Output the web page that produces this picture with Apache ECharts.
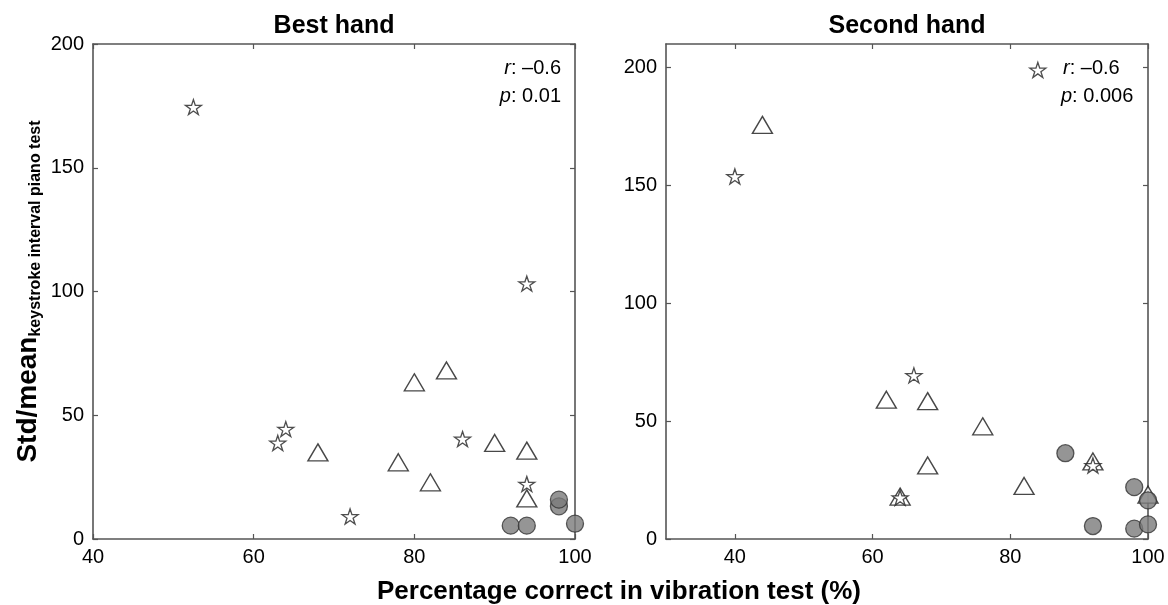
<!DOCTYPE html>
<html><head><meta charset="utf-8">
<script src="https://cdn.jsdelivr.net/npm/echarts@6/dist/echarts.min.js"></script>
<style>html,body{margin:0;padding:0;background:#fff}#c{width:1168px;height:605px}</style>
</head><body><div id="c"></div>
<script>
// ---- data ----
const panelTitles = ['Best hand', 'Second hand'];
const xAxisTitle = 'Percentage correct in vibration test (%)';
const yAxisMain = 'Std/mean';
const yAxisSub = 'keystroke interval piano test';
const statR = ['–0.6', '–0.6'];
const statP = ['0.01', '0.006'];

const leftXTicks = [40, 60, 80, 100];
const leftYTicks = [0, 50, 100, 150, 200];
const rightXTicks = [40, 60, 80, 100];
const rightYTicks = [0, 50, 100, 150, 200];

const bestStarX = [52.5, 94, 63, 64, 72, 86, 94];
const bestStarY = [174.5, 103.2, 38.8, 44.4, 9.1, 40.4, 22.2];
const bestTriX = [68, 80, 84, 78, 82, 90, 94, 94];
const bestTriY = [35.0, 63.3, 68.1, 31.0, 22.9, 38.8, 35.7, 16.4];
const bestCircX = [92, 94, 98, 98, 100];
const bestCircY = [5.4, 5.4, 13.2, 15.9, 6.2];

const secStarX = [84, 40, 66, 64, 92];
const secStarY = [199, 153.8, 69.4, 17.5, 31.2];
const secTriX = [44, 62, 68, 76, 68, 82, 64, 92, 100];
const secTriY = [175.7, 59.1, 58.5, 47.8, 31.2, 22.5, 18.0, 32.9, 18.8];
const secCircX = [88, 98, 92, 98, 100, 100];
const secCircY = [36.4, 22.0, 5.5, 4.4, 6.2, 16.4];

// ---- chart ----
const FONT = 'Liberation Sans, Arial, sans-serif';
const zip = (xs, ys) => xs.map((x, i) => [x, ys[i]]);
const STAR = 'path://M50,0 L61.2,34.5 L97.6,34.5 L68.2,55.9 L79.4,90.5 L50,69.1 L20.6,90.5 L31.8,55.9 L2.4,34.5 L38.8,34.5 Z';
const AX = '#555555';

function axisBase(extra) {
  return Object.assign({
    type: 'value',
    axisLine: { show: true, onZero: false, lineStyle: { color: AX, width: 1.6 } },
    splitLine: { show: false }
  }, extra);
}
function xAx(grid, min, max, ticks, pos, labels) {
  return axisBase({
    gridIndex: grid, min: min, max: max, position: pos,
    axisTick: { show: true, inside: true, length: 5, customValues: ticks, lineStyle: { color: AX, width: 1.2 } },
    axisLabel: { show: labels, customValues: ticks, color: '#000', fontSize: 20, fontFamily: FONT, margin: 8 }
  });
}
function yAx(grid, min, max, ticks, pos, labels, extra) {
  return axisBase(Object.assign({
    gridIndex: grid, min: min, max: max, position: pos,
    axisTick: { show: true, inside: true, length: 5, customValues: ticks, lineStyle: { color: AX, width: 1.2 } },
    axisLabel: { show: labels, customValues: ticks, color: '#000', fontSize: 20, fontFamily: FONT, margin: 9 }
  }, extra || {}));
}

const triStyle = { color: '#fff', borderColor: '#1a1a1a', borderWidth: 1.4 };
const circStyle = { color: '#7a7a7a', borderColor: '#333', borderWidth: 1.3 };
const starStyle = { color: '#fff', borderColor: '#222', borderWidth: 1.3 };

function seriesFor(xi, yi, tri, circ, star) {
  return [
    { type: 'scatter', xAxisIndex: xi, yAxisIndex: yi, data: tri, symbol: 'triangle', symbolSize: [20, 17], itemStyle: triStyle, clip: false, silent: true },
    { type: 'scatter', xAxisIndex: xi, yAxisIndex: yi, data: circ, symbol: 'circle', symbolSize: 17, itemStyle: circStyle, clip: false, silent: true },
    { type: 'scatter', xAxisIndex: xi, yAxisIndex: yi, data: star, symbol: STAR, symbolSize: [16, 15], itemStyle: starStyle, clip: false, silent: true }
  ];
}

const chart = echarts.init(document.getElementById('c'), null, { renderer: 'canvas' });
const titleStyle = { fontSize: 25, fontWeight: 'bold', fontFamily: FONT, color: '#000', lineHeight: 26 };
const italic = { i: { fontStyle: 'italic', fontSize: 20, fontFamily: FONT, fill: '#000' } };
chart.setOption({
  animation: false,
  backgroundColor: '#fff',
  title: [
    { text: panelTitles[0], left: 334, top: 13, textAlign: 'center', padding: 0, textStyle: titleStyle },
    { text: panelTitles[1], left: 907, top: 13, textAlign: 'center', padding: 0, textStyle: titleStyle },
    { text: xAxisTitle, left: 619, top: 579, textAlign: 'center', padding: 0, textStyle: Object.assign({}, titleStyle, { fontSize: 26 }) }
  ],
  grid: [
    { left: 93, top: 44, width: 482, height: 495 },
    { left: 666, top: 44, width: 482, height: 495 }
  ],
  xAxis: [
    xAx(0, 40, 100, leftXTicks, 'bottom', true),
    xAx(0, 40, 100, leftXTicks, 'top', false),
    xAx(1, 30, 100, rightXTicks, 'bottom', true),
    xAx(1, 30, 100, rightXTicks, 'top', false)
  ],
  yAxis: [
    yAx(0, 0, 200, leftYTicks, 'left', true, {
      name: '{m|' + yAxisMain + '}{s|' + yAxisSub + '}',
      nameLocation: 'middle', nameRotate: 90, nameGap: 49,
      nameTextStyle: {
        rich: {
          m: { fontSize: 28, fontWeight: 'bold', fontFamily: FONT, color: '#000', lineHeight: 32 },
          s: { fontSize: 16, fontWeight: 'bold', fontFamily: FONT, color: '#000', lineHeight: 16, verticalAlign: 'bottom' }
        }
      }
    }),
    yAx(0, 0, 200, leftYTicks, 'right', false),
    yAx(1, 0, 210, rightYTicks, 'left', true),
    yAx(1, 0, 210, rightYTicks, 'right', false)
  ],
  series: [].concat(
    seriesFor(0, 0, zip(bestTriX, bestTriY), zip(bestCircX, bestCircY), zip(bestStarX, bestStarY)),
    seriesFor(2, 2, zip(secTriX, secTriY), zip(secCircX, secCircY), zip(secStarX, secStarY))
  ),
  graphic: [
    { type: 'text', right: 1168 - 561, top: 58, style: { text: '{i|r}: ' + statR[0], align: 'right', font: '20px ' + FONT, fill: '#000', rich: italic } },
    { type: 'text', right: 1168 - 561, top: 86, style: { text: '{i|p}: ' + statP[0], align: 'right', font: '20px ' + FONT, fill: '#000', rich: italic } },
    { type: 'text', left: 1063, top: 58, style: { text: '{i|r}: ' + statR[1], font: '20px ' + FONT, fill: '#000', rich: italic } },
    { type: 'text', left: 1061, top: 86, style: { text: '{i|p}: ' + statP[1], font: '20px ' + FONT, fill: '#000', rich: italic } }
  ]
});
</script>
</body></html>
